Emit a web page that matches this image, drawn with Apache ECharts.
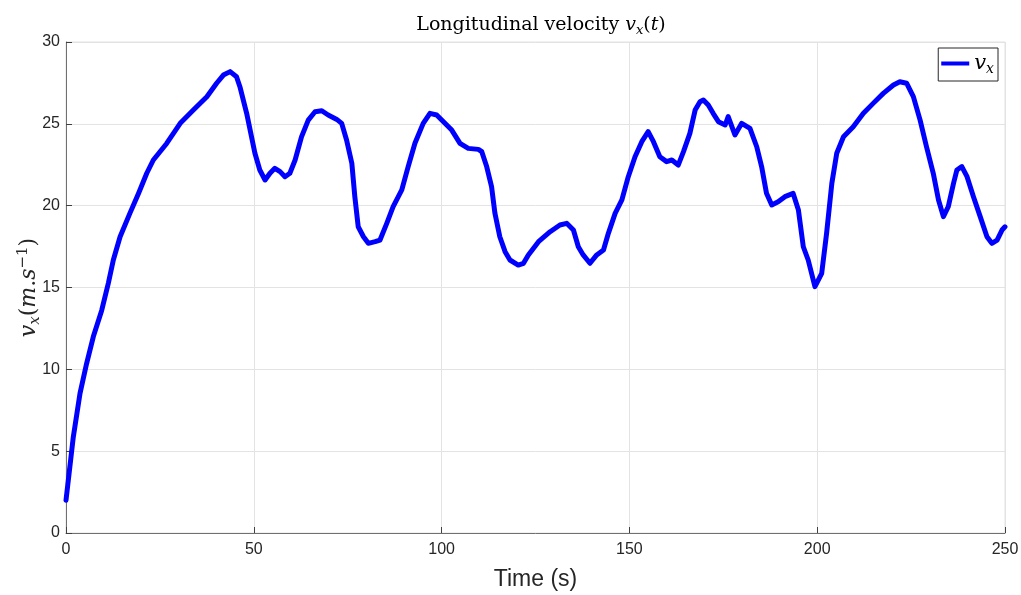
<!DOCTYPE html>
<html>
<head>
<meta charset="utf-8">
<script src="https://cdn.jsdelivr.net/npm/echarts@6/dist/echarts.min.js"></script>
<style>html,body{margin:0;padding:0;background:#fff;}#c{width:1021px;height:595px;}</style>
</head>
<body>
<div id="c"></div>
<script>
const times = [0,1.95,3.73,5.5,7.28,9.5,11.27,12.6,14.4,17.0,19.3,21.5,23.25,26.8,30.4,33.9,37.5,40.1,41.9,43.7,45.4,46.3,48.1,50.3,51.6,53.0,54.3,55.6,57.0,58.3,59.6,61.0,62.7,64.5,66.3,68.1,69.8,72.1,73.4,74.7,76.1,76.9,77.8,79.2,80.5,82.3,83.6,85.4,87.1,89.4,91.1,92.9,95.1,96.9,98.7,100.5,102.7,104.9,107.1,109.8,110.7,112.0,113.3,114.2,115.5,116.9,118.2,120.4,121.8,123.1,125.8,128.9,131.5,133.3,135.1,136.4,137.7,139.5,141.3,143.1,144.4,146.2,148.0,149.7,151.5,153.3,155.0,156.4,158.1,159.9,161.3,163.0,164.4,166.1,167.5,168.8,169.7,171.0,172.3,173.7,175.5,176.3,178.1,179.9,182.1,183.9,185.2,186.5,187.9,189.6,191.4,193.6,195.0,196.3,197.6,199.4,201.2,202.5,203.9,205.2,207.0,209.6,212.3,214.9,217.6,220.3,222.0,223.8,225.6,227.4,229.1,230.9,232.3,233.6,234.9,236.3,237.2,238.5,239.9,241.6,243.4,245.2,246.5,247.9,249.2,250];
const velocity = [2.0,5.88,8.53,10.37,12.0,13.6,15.26,16.68,18.1,19.53,20.75,21.98,22.79,23.8,25.03,25.84,26.66,27.48,27.98,28.19,27.88,27.27,25.64,23.2,22.18,21.57,21.98,22.28,22.08,21.77,21.98,22.79,24.2,25.23,25.74,25.8,25.54,25.27,25.03,24.01,22.59,20.55,18.71,18.1,17.7,17.8,17.9,18.92,19.94,20.96,22.39,23.81,25.03,25.64,25.54,25.13,24.62,23.81,23.5,23.44,23.3,22.39,21.16,19.53,18.1,17.19,16.68,16.37,16.48,16.99,17.8,18.41,18.82,18.92,18.51,17.49,16.99,16.48,16.99,17.29,18.31,19.53,20.35,21.77,22.99,23.91,24.52,23.91,22.99,22.69,22.79,22.48,23.3,24.42,25.84,26.35,26.46,26.15,25.64,25.13,24.93,25.44,24.32,25.03,24.72,23.6,22.39,20.76,20.04,20.24,20.55,20.75,19.73,17.49,16.68,15.05,15.87,18.31,21.37,23.2,24.21,24.82,25.64,26.25,26.86,27.37,27.57,27.48,26.66,25.23,23.6,21.98,20.35,19.33,19.94,21.37,22.18,22.39,21.77,20.55,19.33,18.1,17.7,17.9,18.51,18.71];
const xTicks = [0,50,100,150,200,250];
const yTicks = [0,5,10,15,20,25,30];

const chart = echarts.init(document.getElementById('c'), null, {renderer:'canvas'});
const serif = 'DejaVu Serif';
chart.setOption({
  animation:false,
  backgroundColor:'#ffffff',
  title:{
    text:'{n|Longitudinal velocity }{i|v}{sub|x}{n|(}{i|t}{n|)}',
    left:536, textAlign:'center', top:9,
    textStyle:{
      fontWeight:'normal',
      rich:{
        n:{fontFamily:serif,fontSize:19,fontWeight:'normal',color:'#000'},
        i:{fontFamily:serif,fontStyle:'italic',fontWeight:'normal',fontSize:19,color:'#000'},
        sub:{fontFamily:serif,fontStyle:'italic',fontWeight:'normal',fontSize:13,color:'#000',verticalAlign:'bottom',padding:[10,0,0,0]}
      }
    }
  },
  legend:{
    right:23, top:48,
    data:['vx'],
    icon:'rect', itemWidth:28, itemHeight:4, itemGap:0,
    borderColor:'#262626', borderWidth:1, padding:[5,4,5,3],
    backgroundColor:'#fff',
    formatter:function(){return '{i|v}{sub|x}';},
    textStyle:{
      rich:{
        i:{fontFamily:serif,fontStyle:'italic',fontSize:21,color:'#000'},
        sub:{fontFamily:serif,fontStyle:'italic',fontSize:14,color:'#000',verticalAlign:'bottom',padding:[11,0,0,0]}
      }
    }
  },
  grid:{left:66,right:16,top:42,bottom:62,show:true,borderColor:'#e3e3e3',borderWidth:1,outerBoundsMode:'none',containLabel:false},
  xAxis:{
    type:'value', min:0, max:250, interval:50,
    name:'Time (s)', nameLocation:'middle', nameGap:35,
    nameTextStyle:{fontFamily:'Liberation Sans',fontSize:23,color:'#262626'},
    axisLine:{show:true,onZero:false,lineStyle:{color:'#707070',width:1}},
    axisTick:{show:true,inside:true,length:6,lineStyle:{color:'#404040'}},
    axisLabel:{fontFamily:'Liberation Sans',fontSize:16,color:'#262626',margin:9,
      customValues: xTicks},
    splitLine:{show:true,lineStyle:{color:'#e3e3e3',width:1}}
  },
  yAxis:{
    type:'value', min:0, max:30, interval:5,
    name:'{i|v}{sub|x}{n|(}{i|m}{n|.}{i|s}{sup|−1}{n|)}',
    nameLocation:'middle', nameGap:23, nameRotate:90, nameMoveOverlap:false,
    nameTextStyle:{
      rich:{
        n:{fontFamily:serif,fontSize:22,color:'#262626'},
        i:{fontFamily:serif,fontStyle:'italic',fontSize:22,color:'#262626'},
        sub:{fontFamily:serif,fontStyle:'italic',fontSize:15,color:'#262626',verticalAlign:'bottom',padding:[12,0,0,0]},
        sup:{fontFamily:serif,fontSize:15,color:'#262626',verticalAlign:'top',padding:[0,0,12,0]}
      }
    },
    axisLine:{show:true,lineStyle:{color:'#707070',width:1}},
    axisTick:{show:true,inside:true,length:6,lineStyle:{color:'#404040'}},
    axisLabel:{fontFamily:'Liberation Sans',fontSize:16,color:'#262626',margin:6,
      customValues: yTicks},
    splitLine:{show:true,lineStyle:{color:'#e3e3e3',width:1}}
  },
  series:[{
    name:'vx', type:'line',
    data: times.map((t,i)=>[t,velocity[i]]),
    showSymbol:false, smooth:false,
    lineStyle:{color:'#0000ff',width:5,join:'round',cap:'round'},
    itemStyle:{color:'#0000ff'}
  }]
});
</script>
</body>
</html>
